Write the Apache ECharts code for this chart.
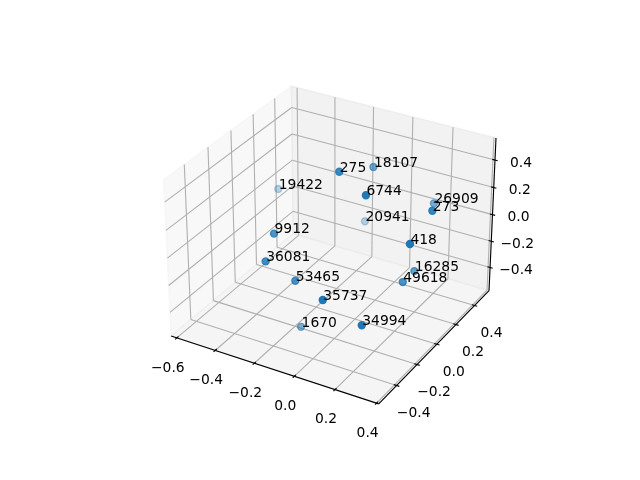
<!DOCTYPE html>
<html>
<head>
<meta charset="utf-8">
<title>3D scatter</title>
<script src="https://cdn.jsdelivr.net/npm/echarts@6/dist/echarts.min.js"></script>
<style>
  html, body { margin: 0; padding: 0; background: #fff; }
  #chart { width: 640px; height: 480px; }
</style>
</head>
<body>
<div id="chart"></div>
<script>
const names = ['19422', '18107', '275', '6744', '26909', '273', '20941', '418', '16285', '49618', '34994', '9912', '36081', '53465', '35737', '1670']
const xs = [-0.561, -0.034, -0.031, 0.167, 0.208, 0.372, -0.180, 0.380, 0.262, 0.285, 0.292, -0.243, -0.213, -0.114, 0.126, -0.163]
const ys = [0.299, 0.236, -0.096, -0.230, 0.363, -0.005, 0.445, -0.236, 0.062, -0.101, -0.503, -0.302, -0.431, -0.347, -0.541, -0.211]
const zs = [-0.031, 0.378, 0.551, 0.551, 0.129, 0.381, -0.217, 0.305, -0.145, -0.101, -0.118, 0.160, 0.061, -0.094, 0.013, -0.558]

const xTicks = [-0.6, -0.4, -0.2, 0.0, 0.2, 0.4]
const yTicks = [-0.4, -0.2, 0.0, 0.2, 0.4]
const zTicks = [-0.4, -0.2, 0.0, 0.2, 0.4]

const xlim = [-0.63, 0.41]
const ylim = [-0.57, 0.56]
const zlim = [-0.579, 0.558]

const FONT = '13.89px "DejaVu Sans"'
const minus = v => v.toFixed(1).replace('-', '\u2212')

// same camera as a default mplot3d view: elev 30, azim -60, dist 10, box 4:4:3
const k = 1.8294640721620434 * 25 / 24 / Math.sqrt(41)
const box = [4 * k, 4 * k, 3 * k]
const U = [0.8660254, 0.5, 0]
const V = [-0.25, 0.4330127, 0.8660254]
const N = [0.4330127, -0.75, 0.5]
const lims = [xlim, ylim, zlim]

const dot = (a, b) => a[0] * b[0] + a[1] * b[1] + a[2] * b[2]

const toView = p => p.map((c, a) => ((c - lims[a][0]) / (lims[a][1] - lims[a][0]) - 0.5) * box[a])

// data -> projection plane (these are the values of the two hidden axes)
const project = p => {
  const w = toView(p)
  const d = 10 - dot(w, N)
  return [dot(w, U) / d, dot(w, V) / d]
}

const depth = p => dot(toView(p), N)

const seg = (a, b) => [...project(a), ...project(b)]

const [x0, x1] = xlim
const [y0, y1] = ylim
const [z0, z1] = zlim

const panes = [
  { c: [[x0, y0, z0], [x0, y1, z0], [x0, y1, z1], [x0, y0, z1]], color: 'rgba(242,242,242,0.5)' },
  { c: [[x0, y1, z0], [x1, y1, z0], [x1, y1, z1], [x0, y1, z1]], color: 'rgba(230,230,230,0.5)' },
  { c: [[x0, y0, z0], [x1, y0, z0], [x1, y1, z0], [x0, y1, z0]], color: 'rgba(236,236,236,0.5)' }
]

const gridSegs = []
xTicks.forEach(x => {
  gridSegs.push(seg([x, y0, z0], [x, y1, z0]), seg([x, y1, z0], [x, y1, z1]))
})
yTicks.forEach(y => {
  gridSegs.push(seg([x0, y, z1], [x0, y, z0]), seg([x0, y, z0], [x1, y, z0]))
})
zTicks.forEach(z => {
  gridSegs.push(seg([x0, y0, z], [x0, y1, z]), seg([x0, y1, z], [x1, y1, z]))
})

const axisSegs = [
  seg([x0, y0, z0], [x1, y0, z0]),
  seg([x1, y0, z0], [x1, y1, z0]),
  seg([x1, y1, z0], [x1, y1, z1])
]

// tick marks run along the neighbouring axis
const dy = (y1 - y0) / 12
const dx = (x1 - x0) / 12
const tickSegs = []
xTicks.forEach(x => tickSegs.push(seg([x, y0 - 0.15 * dy, z0], [x, y0 + 0.15 * dy, z0])))
yTicks.forEach(y => tickSegs.push(seg([x1 + 0.15 * dx, y, z0], [x1 - 0.15 * dx, y, z0])))
zTicks.forEach(z => tickSegs.push(seg([x1 + 0.15 * dx, y1, z], [x1 - 0.15 * dx, y1, z])))

const tickLabels = []
xTicks.forEach(x => tickLabels.push({ value: project([x, y0, z0]), text: minus(x), off: [-9, 30] }))
yTicks.forEach(y => tickLabels.push({ value: project([x1, y, z0]), text: minus(y), off: [17, 28] }))
zTicks.forEach(z => tickLabels.push({ value: project([x1, y1, z]), text: minus(z), off: [26, 3] }))

// points, far ones first; alpha fades with depth like depthshade
const depths = xs.map((x, i) => depth([x, ys[i], zs[i]]))
const dMin = Math.min(...depths)
const dMax = Math.max(...depths)
const order = names.map((n, i) => i).sort((a, b) => depths[a] - depths[b])
const pointData = order.map(i => ({
  value: project([xs[i], ys[i], zs[i]]),
  itemStyle: { opacity: 1 - 0.7 * (dMax - depths[i]) / (dMax - dMin) }
}))
const textData = names.map((n, i) => ({ value: project([xs[i], ys[i], zs[i]]), text: n }))

const segSeries = (data, color, z) => ({
  type: 'custom',
  silent: true,
  z,
  data,
  renderItem (params, api) {
    const a = api.coord([api.value(0), api.value(1)])
    const b = api.coord([api.value(2), api.value(3)])
    return {
      type: 'line',
      shape: { x1: a[0], y1: a[1], x2: b[0], y2: b[1] },
      style: { stroke: color, lineWidth: 1.11 }
    }
  }
})

const textSeries = (data, z, place) => ({
  type: 'custom',
  silent: true,
  z,
  data: data.map(d => d.value),
  renderItem (params, api) {
    const d = data[params.dataIndex]
    const a = api.coord([api.value(0), api.value(1)])
    const st = place(d)
    return {
      type: 'text',
      x: a[0] + st.dx,
      y: a[1] + st.dy,
      style: { text: d.text, font: FONT, fill: '#000', align: st.align, verticalAlign: 'middle' }
    }
  }
})

const chart = echarts.init(document.getElementById('chart'), null, { renderer: 'canvas' })
chart.setOption({
  animation: false,
  backgroundColor: '#fff',
  grid: { left: 143.2, top: 57.6, width: 369.6, height: 369.6 },
  xAxis: { type: 'value', min: -0.095, max: 0.09, show: false },
  yAxis: { type: 'value', min: -0.095, max: 0.09, show: false },
  series: [
    {
      type: 'custom',
      silent: true,
      z: 1,
      data: panes.map((p, i) => [i]),
      renderItem (params, api) {
        const pane = panes[params.dataIndex]
        return {
          type: 'polygon',
          shape: { points: pane.c.map(c => api.coord(project(c))) },
          style: { fill: pane.color, stroke: pane.color, lineWidth: 1.39 }
        }
      }
    },
    segSeries(gridSegs, '#b0b0b0', 2),
    segSeries(axisSegs, '#000', 3),
    segSeries(tickSegs, '#000', 3),
    textSeries(tickLabels, 4, d => ({ dx: d.off[0], dy: d.off[1], align: 'center' })),
    {
      type: 'scatter',
      silent: true,
      z: 5,
      symbol: 'circle',
      symbolSize: 7,
      itemStyle: { color: '#1f77b4', borderColor: '#1f77b4', borderWidth: 1.39 },
      data: pointData
    },
    textSeries(textData, 6, () => ({ dx: 0.5, dy: -3.8, align: 'left' }))
  ]
})
</script>
</body>
</html>
